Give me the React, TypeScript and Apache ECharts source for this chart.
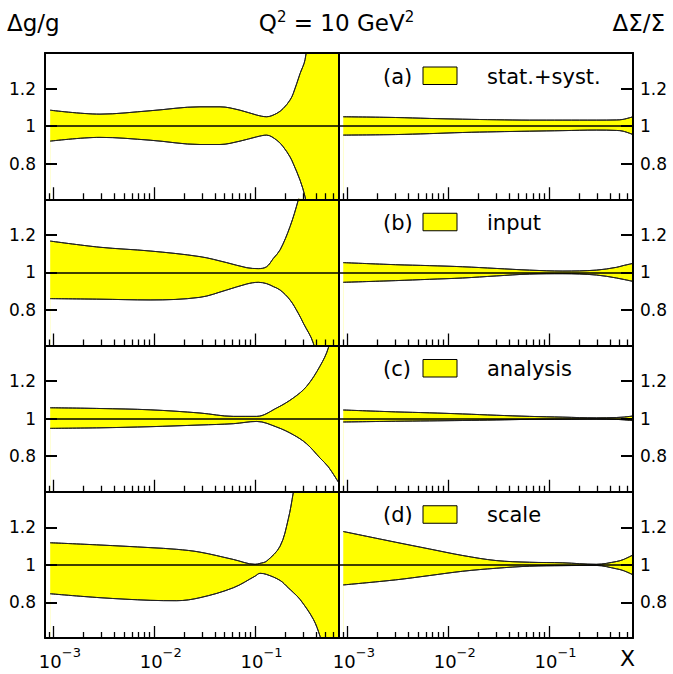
import React, { useEffect, useRef } from 'react';
import * as echarts from 'echarts';

// ---------------- data ----------------
// Δg/g panels (left column)
const gA_x = [0.00093, 0.0029, 0.0091, 0.0284, 0.0449, 0.0708, 0.1038, 0.13, 0.164, 0.19, 0.222, 0.239, 0.279, 0.313, 0.4, 0.68];
const gA_up = [1.085, 1.064, 1.082, 1.103, 1.103, 1.085, 1.059, 1.05, 1.068, 1.094, 1.139, 1.174, 1.28, 1.355, 1.75, 2.8];
const gA_lo = [0.92, 0.94, 0.925, 0.902, 0.902, 0.92, 0.943, 0.952, 0.925, 0.89, 0.836, 0.8, 0.712, 0.623, 0.35, 0.05];

const gB_x = [0.00093, 0.0029, 0.0091, 0.0284, 0.0523, 0.0826, 0.1076, 0.13, 0.152, 0.177, 0.222, 0.268, 0.301, 0.378, 0.68];
const gB_up = [1.167, 1.134, 1.114, 1.084, 1.052, 1.025, 1.02, 1.03, 1.075, 1.12, 1.244, 1.386, 1.5, 1.9, 3.0];
const gB_lo = [0.86, 0.857, 0.853, 0.867, 0.906, 0.938, 0.947, 0.94, 0.924, 0.906, 0.853, 0.782, 0.729, 0.622, 0.1];

const gC_x = [0.00093, 0.0029, 0.0091, 0.0284, 0.0608, 0.1038, 0.164, 0.239, 0.324, 0.44, 0.532, 0.68];
const gC_up = [1.058, 1.054, 1.047, 1.03, 1.012, 1.012, 1.057, 1.11, 1.172, 1.28, 1.377, 1.62];
const gC_lo = [0.948, 0.951, 0.957, 0.966, 0.973, 0.985, 0.955, 0.914, 0.866, 0.79, 0.743, 0.655];

const gD_x = [0.00093, 0.0029, 0.0091, 0.0167, 0.0284, 0.0608, 0.1, 0.112, 0.13, 0.177, 0.213, 0.239, 0.279, 0.378, 0.44, 0.68];
const gD_up = [1.118, 1.106, 1.092, 1.083, 1.068, 1.029, 1.003, 1.008, 1.02, 1.1, 1.243, 1.385, 1.6, 2.2, 2.6, 4.0];
const gD_lo = [0.846, 0.825, 0.811, 0.809, 0.825, 0.878, 0.94, 0.955, 0.949, 0.917, 0.878, 0.853, 0.816, 0.71, 0.62, 0.3];

// ΔΣ/Σ panels (right column)
const sX = [0.00091, 0.003, 0.0065, 0.0139, 0.0299, 0.064, 0.137, 0.294, 0.466, 0.542, 0.68];
const sA_up = [1.05, 1.046, 1.041, 1.037, 1.034, 1.032, 1.032, 1.032, 1.033, 1.036, 1.05];
const sA_lo = [0.952, 0.955, 0.96, 0.966, 0.97, 0.973, 0.976, 0.979, 0.977, 0.973, 0.955];
const sB_up = [1.052, 1.041, 1.036, 1.03, 1.021, 1.012, 1.007, 1.012, 1.027, 1.036, 1.048];
const sB_lo = [0.947, 0.956, 0.963, 0.97, 0.981, 0.991, 0.993, 0.986, 0.97, 0.963, 0.952];
const sC_up = [1.046, 1.036, 1.031, 1.025, 1.018, 1.012, 1.008, 1.004, 1.006, 1.008, 1.014];
const sC_lo = [0.982, 0.986, 0.988, 0.99, 0.993, 0.996, 0.997, 0.998, 0.996, 0.994, 0.989];
const sD_up = [1.178, 1.121, 1.085, 1.05, 1.023, 1.014, 1.011, 1.003, 1.018, 1.028, 1.053];
const sD_lo = [0.893, 0.92, 0.943, 0.966, 0.982, 0.993, 0.996, 0.997, 0.979, 0.97, 0.947];

const panelKeys = ['a', 'b', 'c', 'd'];
const panelNames = ['stat.+syst.', 'input', 'analysis', 'scale'];

const MAJOR_X = [0.001, 0.01, 0.1];
const MINOR_X = [0.0009, 0.002, 0.003, 0.004, 0.005, 0.006, 0.007, 0.008, 0.009,
  0.02, 0.03, 0.04, 0.05, 0.06, 0.07, 0.08, 0.09, 0.2, 0.3, 0.4, 0.5, 0.6];
const Y_TICKS = [0.8, 1, 1.2];

// ---------------- layout ----------------
const X_MIN = 0.000826;
const X_MAX = 0.679;
const Y_MIN = 0.61;
const Y_MAX = 1.39;
const TOP = 53;
const PH = 146.25;
const PW = 294;
const COL_LEFT = [45, 339];
const FONT = "'DejaVu Sans', sans-serif";
const YELLOW = '#ffff00';
const SMOOTH = 0.35;

const leftData = [
  [gA_x, gA_up, gA_lo],
  [gB_x, gB_up, gB_lo],
  [gC_x, gC_up, gC_lo],
  [gD_x, gD_up, gD_lo],
];
const rightData = [
  [sX, sA_up, sA_lo],
  [sX, sB_up, sB_lo],
  [sX, sC_up, sC_lo],
  [sX, sD_up, sD_lo],
];

function buildOption() {
  const grid: any[] = [];
  const xAxis: any[] = [];
  const yAxis: any[] = [];
  const series: any[] = [];
  const graphic: any[] = [];

  const blackLine = { color: '#000', width: 2 };

  for (let row = 0; row < 4; row++) {
    for (let col = 0; col < 2; col++) {
      const gi = grid.length;
      const top = TOP + row * PH;
      grid.push({ left: COL_LEFT[col], top, width: PW, height: PH, show: false });
      const bottomRow = row === 3;

      const xi = xAxis.length;
      xAxis.push({
        type: 'log', gridIndex: gi, min: X_MIN, max: X_MAX, position: 'bottom', z: 5,
        axisLine: { show: true, onZero: false, lineStyle: blackLine },
        axisTick: { show: true, inside: true, length: 12, customValues: MAJOR_X, lineStyle: { color: '#000', width: 1.3 } },
        axisLabel: {
          show: bottomRow, customValues: MAJOR_X, margin: 7.5, padding: [0, 0, 0, 13],
          formatter: (v: number) => `{b|10}{s|\u2212${Math.abs(Math.round(Math.log10(v)))}}`,
          rich: {
            b: { fontSize: 18, lineHeight: 32, fontFamily: FONT, color: '#000', verticalAlign: 'middle' },
            s: { fontSize: 13, lineHeight: 14, fontFamily: FONT, color: '#000', verticalAlign: 'top' },
          },
        },
        splitLine: { show: false },
        name: bottomRow && col === 1 ? 'X' : '',
        nameLocation: 'end', nameGap: -13,
        nameTextStyle: { fontSize: 22, fontFamily: FONT, color: '#000', align: 'left', verticalAlign: 'top', padding: [9, 0, 0, 0] },
      });
      xAxis.push({
        type: 'log', gridIndex: gi, min: X_MIN, max: X_MAX, position: 'bottom', z: 5,
        axisLine: { show: false, onZero: false },
        axisTick: { show: true, inside: true, length: 6, customValues: MINOR_X, lineStyle: { color: '#000', width: 1.3 } },
        axisLabel: { show: false }, splitLine: { show: false },
      });
      xAxis.push({
        type: 'log', gridIndex: gi, min: X_MIN, max: X_MAX, position: 'top', z: 5,
        axisLine: { show: true, onZero: false, lineStyle: blackLine },
        axisTick: { show: false }, axisLabel: { show: false }, splitLine: { show: false },
      });

      const yi = yAxis.length;
      yAxis.push({
        type: 'value', gridIndex: gi, min: Y_MIN, max: Y_MAX, position: col === 0 ? 'left' : 'right', z: 5,
        axisLine: { show: true, onZero: false, lineStyle: blackLine },
        axisTick: { show: true, inside: true, length: 12, customValues: Y_TICKS, lineStyle: { color: '#000', width: 2 } },
        axisLabel: { show: true, customValues: Y_TICKS, margin: col === 0 ? 9 : 7, fontSize: 17, fontFamily: FONT, color: '#000' },
        splitLine: { show: false },
      });
      yAxis.push({
        type: 'value', gridIndex: gi, min: Y_MIN, max: Y_MAX, position: col === 0 ? 'right' : 'left', z: 5,
        axisLine: { show: true, onZero: false, lineStyle: blackLine },
        axisTick: { show: false }, axisLabel: { show: false }, splitLine: { show: false },
      });

      const [xs, up, lo] = col === 0 ? leftData[row] : rightData[row];
      const common = {
        type: 'line', xAxisIndex: xi, yAxisIndex: yi, symbol: 'none', smooth: SMOOTH,
        silent: true, emphasis: { disabled: true }, animation: false,
      };
      // yellow fill from the upper curve down to the axis bottom
      series.push({
        ...common, name: panelNames[row], z: 2,
        data: xs.map((x: number, i: number) => [x, up[i]]),
        lineStyle: { color: '#222', width: 1 }, itemStyle: { color: YELLOW },
        areaStyle: { color: YELLOW, opacity: 1, origin: 'start' },
      });
      // white fill from the lower curve down to the axis bottom (leaves the band yellow)
      series.push({
        ...common, z: 2,
        data: xs.map((x: number, i: number) => [x, lo[i]]),
        lineStyle: { color: '#222', width: 1 }, itemStyle: { color: '#fff' },
        areaStyle: { color: '#fff', opacity: 1, origin: 'start' },
      });
      // outline curves on top
      series.push({
        ...common, z: 3,
        data: xs.map((x: number, i: number) => [x, up[i]]),
        lineStyle: { color: '#222', width: 1 },
        markLine: {
          silent: true, symbol: ['none', 'none'], label: { show: false }, animation: false,
          lineStyle: { color: '#000', width: 1.6, type: 'solid' },
          data: [{ yAxis: 1 }],
        },
      });
      series.push({
        ...common, z: 3,
        data: xs.map((x: number, i: number) => [x, lo[i]]),
        lineStyle: { color: '#222', width: 1 },
      });
    }

    // legend-like label in right panel
    const top = TOP + row * PH;
    graphic.push({
      type: 'text', x: 383, y: top + 23.5, z: 10,
      style: { text: `(${panelKeys[row]})`, fill: '#000', fontSize: 21, fontFamily: FONT, align: 'left', verticalAlign: 'middle' },
    });
    graphic.push({
      type: 'rect', z: 10, shape: { x: 423, y: top + 14, width: 34, height: 17.5 },
      style: { fill: YELLOW, stroke: '#000', lineWidth: 1 },
    });
    graphic.push({
      type: 'text', x: 487, y: top + 23.5, z: 10,
      style: { text: panelNames[row], fill: '#000', fontSize: 21, fontFamily: FONT, align: 'left', verticalAlign: 'middle' },
    });
  }

  const titleRich = {
    b: { fontSize: 23, lineHeight: 28, fontFamily: FONT, fontWeight: 'normal', color: '#000', verticalAlign: 'middle' },
    s: { fontSize: 15, lineHeight: 15, fontFamily: FONT, fontWeight: 'normal', color: '#000', verticalAlign: 'top' },
  };
  const titleStyle = { fontWeight: 'normal', fontFamily: FONT, color: '#000', rich: titleRich };

  return {
    animation: false,
    backgroundColor: '#fff',
    title: [
      { text: '{b|\u0394g/g}', left: 7, top: 9, padding: 0, textStyle: titleStyle },
      { text: '{b|Q}{s|2}{b| = 10 GeV}{s|2}', left: 'center', top: 9, padding: 0, textStyle: titleStyle },
      { text: '{b|\u0394\u03a3/\u03a3}', right: 8, top: 9, padding: 0, textStyle: titleStyle },
    ],
    grid, xAxis, yAxis, series, graphic,
  };
}

export default function App() {
  const ref = useRef<HTMLDivElement>(null);
  useEffect(() => {
    document.body.style.margin = '0';
    if (!ref.current) return;
    const chart = echarts.init(ref.current, undefined, { renderer: 'svg' });
    chart.setOption(buildOption() as any);
    return () => chart.dispose();
  }, []);
  return <div ref={ref} style={{ width: 673, height: 674 }} />;
}
